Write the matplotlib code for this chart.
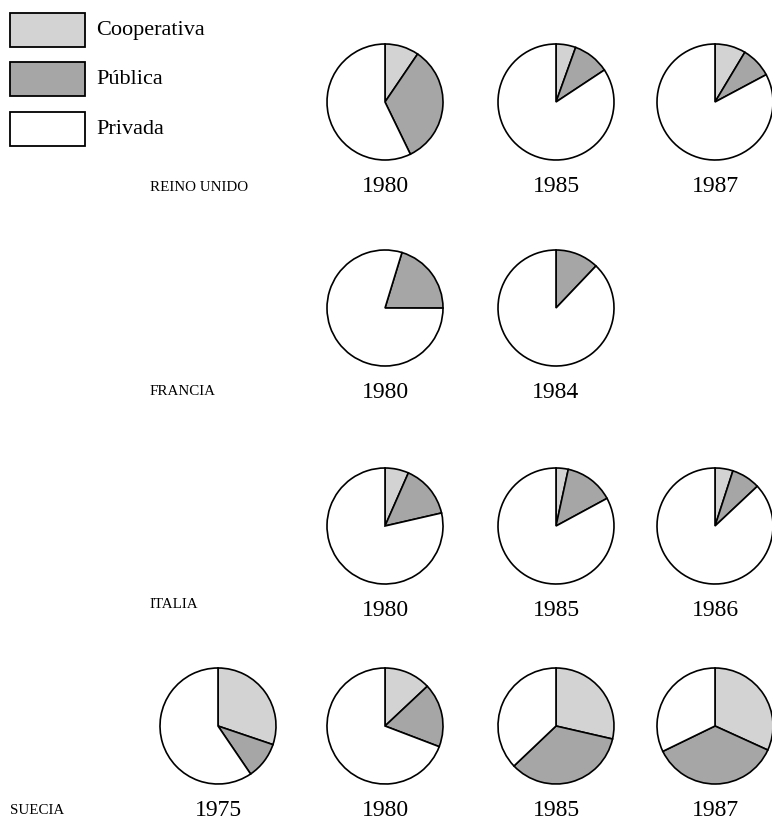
import matplotlib.pyplot as plt

# shares (%) : cooperativa, publica, privada
categories = ['Cooperativa', 'Pública', 'Privada']
colors = ['#d3d3d3', '#a6a6a6', 'white']

countries = ['REINO UNIDO', 'FRANCIA', 'ITALIA', 'SUECIA']

uk_years = ['1980', '1985', '1987']
uk_coop = [9.5, 5.5, 8.6]
uk_pub = [33.3, 10.2, 8.6]

fr_years = ['1980', '1984']
fr_coop = [0, 0]
fr_pub = [20.3, 12.1]

it_years = ['1980', '1985', '1986']
it_coop = [6.6, 3.4, 5.0]
it_pub = [14.8, 13.7, 8.0]

se_years = ['1975', '1980', '1985', '1987']
se_coop = [30.2, 13.0, 28.6, 31.8]
se_pub = [10.3, 17.8, 34.3, 36.0]

W, H = 772, 823
fig = plt.figure(figsize=(W / 100, H / 100), dpi=100)
ax = fig.add_axes([0, 0, 1, 1])

col_x = [218, 385, 556, 715]
R = 58
serif = 'Liberation Serif'


def draw_pie(x, y, coop, pub, year, start=90):
    vals = [coop, pub, 100 - coop - pub]
    ax.pie(vals, colors=colors, startangle=start, counterclock=False,
           center=(x, H - y), radius=R, frame=True,
           wedgeprops=dict(edgecolor='black', linewidth=1.2))
    ax.text(x, H - (y + 84), year, ha='center', va='center',
            fontsize=17, family=serif)


# Reino Unido
for i, yr in enumerate(uk_years):
    draw_pie(col_x[i + 1], 102, uk_coop[i], uk_pub[i], yr)
# Francia (1980 public slice starts a bit right of the top)
fr_start = [73, 90]
for i, yr in enumerate(fr_years):
    draw_pie(col_x[i + 1], 308, fr_coop[i], fr_pub[i], yr, start=fr_start[i])
# Italia
for i, yr in enumerate(it_years):
    draw_pie(col_x[i + 1], 526, it_coop[i], it_pub[i], yr)
# Suecia
for i, yr in enumerate(se_years):
    draw_pie(col_x[i], 726, se_coop[i], se_pub[i], yr)

label_pos = [(150, 187), (150, 391), (150, 604), (10, 810)]
for name, (lx, ly) in zip(countries, label_pos):
    ax.text(lx, H - ly, name, ha='left', va='center', fontsize=10.8, family=serif)

# legend boxes
box_y = [13, 62, 112]
for cat, col, by in zip(categories, colors, box_y):
    ax.add_patch(plt.Rectangle((10, H - by - 34), 75, 34, facecolor=col,
                               edgecolor='black', linewidth=1.3))
    ax.text(96, H - by - 17, cat, ha='left', va='center', fontsize=16, family=serif)

ax.set_xlim(0, W)
ax.set_ylim(0, H)
ax.set_aspect('equal')
ax.axis('off')

fig.savefig('out.png', dpi=100)
